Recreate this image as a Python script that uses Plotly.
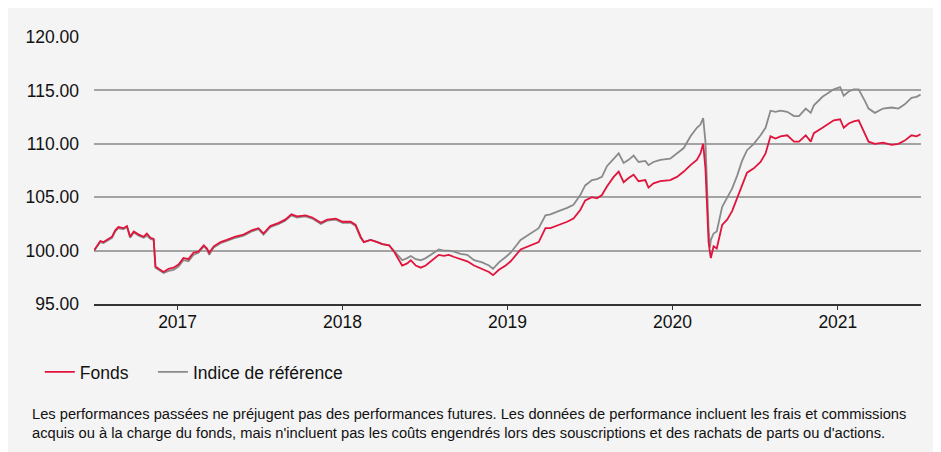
import plotly.graph_objects as go

dates = [
    "2016-06-30", "2016-07-14", "2016-07-21", "2016-08-01", "2016-08-09", "2016-08-16", "2016-08-23",
    "2016-09-03", "2016-09-11", "2016-09-18", "2016-09-26", "2016-10-07", "2016-10-18", "2016-10-25",
    "2016-11-02", "2016-11-09", "2016-11-13", "2016-11-20", "2016-12-01", "2016-12-12", "2016-12-23",
    "2017-01-03", "2017-01-14", "2017-01-25", "2017-02-05", "2017-02-16", "2017-02-28", "2017-03-07",
    "2017-03-12", "2017-03-22", "2017-04-06", "2017-04-20", "2017-05-09", "2017-05-27", "2017-06-14",
    "2017-06-29", "2017-07-10", "2017-07-25", "2017-08-13", "2017-08-27", "2017-09-10", "2017-09-22",
    "2017-10-11", "2017-10-26", "2017-11-14", "2017-11-28", "2017-12-17", "2018-01-01", "2018-01-19",
    "2018-01-30", "2018-02-10", "2018-02-17", "2018-03-04", "2018-03-19", "2018-03-30", "2018-04-14",
    "2018-04-25", "2018-05-06", "2018-05-13", "2018-05-24", "2018-06-01", "2018-06-12", "2018-06-23",
    "2018-07-04", "2018-07-19", "2018-08-02", "2018-08-13", "2018-08-24", "2018-09-05", "2018-09-19",
    "2018-10-04", "2018-10-19", "2018-11-06", "2018-11-21", "2018-11-30", "2018-12-13", "2018-12-28",
    "2019-01-08", "2019-01-30", "2019-02-21", "2019-03-11", "2019-03-26", "2019-04-06", "2019-04-24",
    "2019-05-13", "2019-05-27", "2019-06-11", "2019-06-22", "2019-07-07", "2019-07-18", "2019-07-29",
    "2019-08-09", "2019-08-24", "2019-09-04", "2019-09-15", "2019-09-26", "2019-10-07", "2019-10-18",
    "2019-11-02", "2019-11-09", "2019-11-20", "2019-12-05", "2019-12-27", "2020-01-11", "2020-01-26",
    "2020-02-10", "2020-02-24", "2020-03-03", "2020-03-09", "2020-03-14", "2020-03-17", "2020-03-21",
    "2020-03-24", "2020-03-26", "2020-04-01", "2020-04-08", "2020-04-20", "2020-05-01", "2020-05-12",
    "2020-05-23", "2020-06-03", "2020-06-14", "2020-06-29", "2020-07-14", "2020-07-25", "2020-08-05",
    "2020-08-16", "2020-08-27", "2020-09-11", "2020-09-26", "2020-10-07", "2020-10-22", "2020-11-02",
    "2020-11-09", "2020-11-28", "2020-12-09", "2020-12-23", "2021-01-06", "2021-01-14", "2021-01-25",
    "2021-02-05", "2021-02-16", "2021-02-23", "2021-03-02", "2021-03-10", "2021-03-24", "2021-04-11",
    "2021-04-30", "2021-05-15", "2021-05-29", "2021-06-13", "2021-06-24", "2021-07-03",
]

fonds = [
    100.0, 100.9, 100.8, 101.1, 101.3, 101.9, 102.2,
    102.1, 102.3, 101.3, 101.8, 101.5, 101.3, 101.6,
    101.2, 101.1, 98.5, 98.3, 98.0, 98.3, 98.4,
    98.7, 99.3, 99.2, 99.8, 99.9, 100.5, 100.2,
    99.8, 100.4, 100.8, 101.0, 101.3, 101.5, 101.9,
    102.1, 101.6, 102.3, 102.6, 102.9, 103.4, 103.2,
    103.3, 103.1, 102.6, 102.9, 103.0, 102.7, 102.7,
    102.4, 101.3, 100.8, 101.0, 100.8, 100.6, 100.5,
    99.9, 99.1, 98.6, 98.8, 99.1, 98.6, 98.4,
    98.6, 99.1, 99.6, 99.5, 99.6, 99.4, 99.2,
    99.0, 98.6, 98.3, 98.0, 97.7, 98.2, 98.6,
    99.0, 100.1, 100.5, 100.8, 102.1, 102.1, 102.4,
    102.7, 103.0, 103.8, 104.7, 105.0, 104.9, 105.2,
    106.0, 106.9, 107.4, 106.4, 106.8, 107.1, 106.5,
    106.6, 105.9, 106.3, 106.5, 106.6, 106.9, 107.4,
    108.0, 108.5, 109.1, 110.0, 107.7, 104.6, 100.8,
    99.8, 99.3, 100.4, 100.2, 102.4, 102.9, 103.7,
    104.9, 106.2, 107.3, 107.7, 108.3, 109.1, 110.7,
    110.5, 110.7, 110.8, 110.2, 110.2, 110.8, 110.2,
    111.0, 111.5, 111.8, 112.2, 112.3, 111.5, 111.9,
    112.1, 112.2, 111.6, 111.0, 110.2, 110.0, 110.1,
    109.9, 110.0, 110.3, 110.8, 110.7, 110.9,
]

indice = [
    100.0, 100.8, 100.7, 101.0, 101.2, 101.8, 102.1,
    102.0, 102.2, 101.2, 101.7, 101.4, 101.2, 101.4,
    101.1, 101.0, 98.4, 98.2, 97.9, 98.1, 98.2,
    98.5, 99.1, 99.0, 99.6, 99.8, 100.4, 100.1,
    99.6, 100.3, 100.7, 100.9, 101.2, 101.4, 101.8,
    102.0, 101.5, 102.2, 102.5, 102.8, 103.3, 103.1,
    103.2, 103.0, 102.5, 102.8, 102.9, 102.6, 102.6,
    102.3, 101.2, 100.8, 101.0, 100.8, 100.6, 100.5,
    100.0, 99.4, 99.1, 99.3, 99.5, 99.2, 99.1,
    99.3, 99.7, 100.1, 100.0, 100.0, 99.9, 99.7,
    99.6, 99.1, 98.9, 98.6, 98.3, 98.9, 99.4,
    99.8, 101.0, 101.6, 102.1, 103.3, 103.4, 103.7,
    104.0, 104.3, 105.2, 106.1, 106.6, 106.7, 106.9,
    107.9, 108.6, 109.1, 108.2, 108.5, 108.9, 108.3,
    108.4, 108.0, 108.3, 108.5, 108.6, 109.1, 109.6,
    110.7, 111.5, 111.8, 112.4, 110.2, 106.2, 102.0,
    100.3, 101.0, 101.6, 101.8, 104.1, 105.0, 105.8,
    107.0, 108.4, 109.4, 110.0, 110.8, 111.5, 113.1,
    113.0, 113.1, 113.0, 112.6, 112.6, 113.3, 112.9,
    113.6, 114.4, 114.7, 115.1, 115.3, 114.5, 114.9,
    115.1, 115.1, 114.6, 114.0, 113.3, 112.9, 113.3,
    113.4, 113.3, 113.7, 114.3, 114.4, 114.6,
]

y_ticks = [95, 100, 105, 110, 115, 120]
y_tick_labels = ["95.00", "100.00", "105.00", "110.00", "115.00", "120.00"]
x_ticks = ["2017-01-01", "2018-01-01", "2019-01-01", "2020-01-01", "2021-01-01"]
x_tick_labels = ["2017", "2018", "2019", "2020", "2021"]

RED = "#e0143c"
GREY = "#8a8a8a"
FONT = "Liberation Sans, Arial, sans-serif"

fig = go.Figure()
fig.add_trace(go.Scatter(x=dates, y=indice, mode="lines", name="Indice de référence",
                         line=dict(color=GREY, width=1.8), legendrank=2))
fig.add_trace(go.Scatter(x=dates, y=fonds, mode="lines", name="Fonds\u00a0\u00a0\u00a0\u00a0",
                         line=dict(color=RED, width=1.8), legendrank=1))

fig.update_layout(
    width=941, height=452,
    margin=dict(l=86, r=28, t=29, b=156),
    paper_bgcolor="#f4f4f4",
    plot_bgcolor="#f4f4f4",
    font=dict(family=FONT, color="#111111", size=17),
    showlegend=True,
    legend=dict(orientation="h", x=-0.0655, xanchor="left", y=-0.2547, yanchor="middle",
                font=dict(size=17.5, family=FONT, color="#111111"),
                bgcolor="rgba(0,0,0,0)", itemwidth=30, tracegroupgap=0),
    xaxis=dict(
        range=["2016-06-30", "2021-07-04"],
        tickvals=x_ticks, ticktext=x_tick_labels,
        showgrid=False, zeroline=False,
        showline=True, linecolor="#333333", linewidth=1.5,
        ticks="outside", ticklen=4, tickcolor="#333333", tickwidth=1.2,
        ticklabelstandoff=-3,
        tickfont=dict(size=17.5, family=FONT, color="#111111"),
        fixedrange=True,
    ),
    yaxis=dict(
        range=[95, 120],
        tickvals=y_ticks, ticktext=y_tick_labels,
        showgrid=True, gridcolor="#a3a3a3", gridwidth=1.5,
        zeroline=False, showline=False,
        ticks="", ticklabelstandoff=14,
        tickfont=dict(size=17.5, family=FONT, color="#111111"),
        fixedrange=True,
    ),
    annotations=[dict(
        xref="paper", yref="paper", x=-0.0774, y=-0.375, xanchor="left", yanchor="top",
        align="left", showarrow=False,
        text=("Les performances passées ne préjugent pas des performances futures. Les données de performance incluent les frais et commissions<br>"
              "acquis ou à la charge du fonds, mais n'incluent pas les coûts engendrés lors des souscriptions et des rachats de parts ou d'actions."),
        font=dict(size=14.7, family=FONT, color="#111111"),
    )],
)

fig.write_html("out.html")
